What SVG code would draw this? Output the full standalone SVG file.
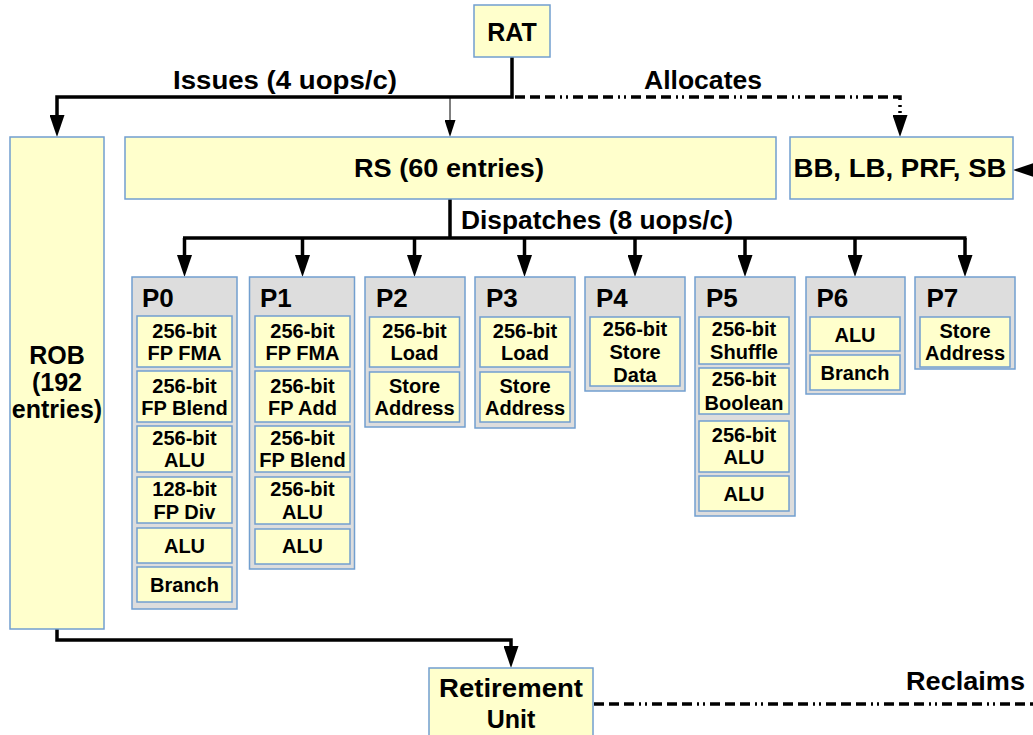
<svg xmlns="http://www.w3.org/2000/svg" width="1033" height="735" viewBox="0 0 1033 735">
<style>
.box{fill:#ffffcc;stroke:#729fcf;stroke-width:1.5}
.port{fill:#dddddd;stroke:#729fcf;stroke-width:1.5}
text{font-family:"Liberation Sans",Arial,sans-serif;font-weight:bold;fill:#000}
.t25{font-size:25px;text-anchor:middle}
.t20{font-size:20px;text-anchor:middle}
.pl{font-size:26px}
.lbl{font-size:25px}
.thick{fill:none;stroke:#000;stroke-width:3.5}
.thin{fill:none;stroke:#000;stroke-width:1}
.dash{fill:none;stroke:#000;stroke-width:3.5;stroke-dasharray:10 5 10 5 10 5 2 4 2 5}
</style>
<defs>
<marker id="ah" markerUnits="userSpaceOnUse" markerWidth="22" markerHeight="15" refX="0" refY="7.5" orient="auto" viewBox="0 0 22 15"><path d="M0,0 L22,7.5 L0,15 z" fill="#000"/></marker>
<marker id="ahs" markerUnits="userSpaceOnUse" markerWidth="17" markerHeight="11" refX="0" refY="5.5" orient="auto" viewBox="0 0 17 11"><path d="M0,0 L17,5.5 L0,11 z" fill="#000"/></marker>
</defs>

<g id="connectors">
<path class="thick" d="M512,57 V97 H57 V115" marker-end="url(#ah)"/>
<path class="thin" d="M450,97 V120" marker-end="url(#ahs)"/>
<path class="dash" d="M515,97 H900 V115" marker-end="url(#ah)"/>
<path class="thick" d="M450,199 V238"/>
<path class="thick" d="M183,238 H966.5"/>
<path class="thick" d="M184.5,238 V255" marker-end="url(#ah)"/>
<path class="thick" d="M302.5,238 V255" marker-end="url(#ah)"/>
<path class="thick" d="M414.5,238 V255" marker-end="url(#ah)"/>
<path class="thick" d="M524.5,238 V255" marker-end="url(#ah)"/>
<path class="thick" d="M635,238 V255" marker-end="url(#ah)"/>
<path class="thick" d="M745,238 V255" marker-end="url(#ah)"/>
<path class="thick" d="M855,238 V255" marker-end="url(#ah)"/>
<path class="thick" d="M965,238 V255" marker-end="url(#ah)"/>
<path class="thick" d="M57,629 V640 H511 V646" marker-end="url(#ah)"/>
<path class="dash" d="M594,704 H1033"/>
<path class="thick" d="M1050,170 H1035" marker-end="url(#ah)"/>
<text class="lbl" x="173" y="89" textLength="224" lengthAdjust="spacingAndGlyphs">Issues (4 uops/c)</text>
<text class="lbl" x="644" y="89" textLength="118" lengthAdjust="spacingAndGlyphs">Allocates</text>
<text class="lbl" x="461" y="229" textLength="272" lengthAdjust="spacingAndGlyphs">Dispatches (8 uops/c)</text>
<text class="lbl" x="906" y="690" textLength="119" lengthAdjust="spacingAndGlyphs">Reclaims</text>
</g>

<g id="rat">
<rect class="box" x="474" y="5" width="76" height="52"/>
<text class="t25" x="512" y="41">RAT</text>
</g>

<g id="rob">
<rect class="box" x="10" y="137" width="94" height="492"/>
<text class="t25" x="57" y="364">ROB</text>
<text class="t25" x="57" y="391">(192</text>
<text class="t25" x="57" y="418">entries)</text>
</g>

<g id="rs">
<rect class="box" x="125" y="137" width="651" height="62"/>
<text class="t25" x="449" y="177" textLength="190" lengthAdjust="spacingAndGlyphs">RS (60 entries)</text>
</g>

<g id="buffers">
<rect class="box" x="790" y="137" width="223" height="62"/>
<text class="t25" x="900" y="177" textLength="213" lengthAdjust="spacingAndGlyphs">BB, LB, PRF, SB</text>
</g>

<g id="retirement">
<rect class="box" x="429" y="668" width="164" height="80"/>
<text class="t25" x="511" y="697" textLength="144" lengthAdjust="spacingAndGlyphs">Retirement</text>
<text class="t25" x="511" y="728">Unit</text>
</g>

<g id="p0">
<rect class="port" x="132" y="277" width="105" height="332"/>
<text class="pl" x="142" y="307">P0</text>
<rect class="box" x="137" y="316" width="95" height="51"/>
<text class="t20" x="184.5" y="337.5">256-bit</text><text class="t20" x="184.5" y="360">FP FMA</text>
<rect class="box" x="137" y="371" width="95" height="51"/>
<text class="t20" x="184.5" y="392.5">256-bit</text><text class="t20" x="184.5" y="415">FP Blend</text>
<rect class="box" x="137" y="426" width="95" height="46"/>
<text class="t20" x="184.5" y="444.5">256-bit</text><text class="t20" x="184.5" y="467">ALU</text>
<rect class="box" x="137" y="477" width="95" height="46"/>
<text class="t20" x="184.5" y="495.5">128-bit</text><text class="t20" x="184.5" y="518.5">FP Div</text>
<rect class="box" x="137" y="528" width="95" height="35"/>
<text class="t20" x="184.5" y="552.5">ALU</text>
<rect class="box" x="137" y="567" width="95" height="35"/>
<text class="t20" x="184.5" y="592">Branch</text>
</g>

<g id="p1">
<rect class="port" x="249.5" y="277" width="105" height="292"/>
<text class="pl" x="260" y="307">P1</text>
<rect class="box" x="255" y="316" width="95" height="51"/>
<text class="t20" x="302.5" y="337.5">256-bit</text><text class="t20" x="302.5" y="360">FP FMA</text>
<rect class="box" x="255" y="371" width="95" height="51"/>
<text class="t20" x="302.5" y="392.5">256-bit</text><text class="t20" x="302.5" y="415">FP Add</text>
<rect class="box" x="255" y="426" width="95" height="46"/>
<text class="t20" x="302.5" y="444.5">256-bit</text><text class="t20" x="302.5" y="467">FP Blend</text>
<rect class="box" x="255" y="477" width="95" height="47"/>
<text class="t20" x="302.5" y="495.5">256-bit</text><text class="t20" x="302.5" y="518.5">ALU</text>
<rect class="box" x="255" y="529" width="95" height="35"/>
<text class="t20" x="302.5" y="553">ALU</text>
</g>

<g id="p2">
<rect class="port" x="365" y="277" width="100" height="150"/>
<text class="pl" x="376" y="307">P2</text>
<rect class="box" x="369.5" y="317" width="90" height="50"/>
<text class="t20" x="414.5" y="337.5">256-bit</text><text class="t20" x="414.5" y="360">Load</text>
<rect class="box" x="369.5" y="372" width="90" height="50"/>
<text class="t20" x="414.5" y="393">Store</text><text class="t20" x="414.5" y="415">Address</text>
</g>

<g id="p3">
<rect class="port" x="475" y="277" width="100" height="151"/>
<text class="pl" x="486" y="307">P3</text>
<rect class="box" x="480" y="317" width="90" height="50"/>
<text class="t20" x="525" y="337.5">256-bit</text><text class="t20" x="525" y="360">Load</text>
<rect class="box" x="480" y="372" width="90" height="50"/>
<text class="t20" x="525" y="393">Store</text><text class="t20" x="525" y="415">Address</text>
</g>

<g id="p4">
<rect class="port" x="585" y="277" width="100" height="114"/>
<text class="pl" x="596" y="307">P4</text>
<rect class="box" x="590" y="317" width="90" height="69"/>
<text class="t20" x="635" y="336">256-bit</text><text class="t20" x="635" y="359">Store</text><text class="t20" x="635" y="381.5">Data</text>
</g>

<g id="p5">
<rect class="port" x="695" y="277" width="100" height="239"/>
<text class="pl" x="706" y="307">P5</text>
<rect class="box" x="699" y="317" width="90" height="47"/>
<text class="t20" x="744" y="336">256-bit</text><text class="t20" x="744" y="359">Shuffle</text>
<rect class="box" x="699" y="368" width="90" height="46"/>
<text class="t20" x="744" y="386">256-bit</text><text class="t20" x="744" y="410">Boolean</text>
<rect class="box" x="699" y="421" width="90" height="51"/>
<text class="t20" x="744" y="442">256-bit</text><text class="t20" x="744" y="464">ALU</text>
<rect class="box" x="699" y="476" width="90" height="35"/>
<text class="t20" x="744" y="500.5">ALU</text>
</g>

<g id="p6">
<rect class="port" x="806" y="277" width="99" height="117"/>
<text class="pl" x="816.5" y="307">P6</text>
<rect class="box" x="810" y="317" width="90" height="34"/>
<text class="t20" x="855" y="341.5">ALU</text>
<rect class="box" x="810" y="355" width="90" height="35"/>
<text class="t20" x="855" y="379.5">Branch</text>
</g>

<g id="p7">
<rect class="port" x="915" y="277" width="100" height="92"/>
<text class="pl" x="926.5" y="307">P7</text>
<rect class="box" x="920" y="317" width="90" height="50"/>
<text class="t20" x="965" y="337.5">Store</text><text class="t20" x="965" y="360">Address</text>
</g>
</svg>
